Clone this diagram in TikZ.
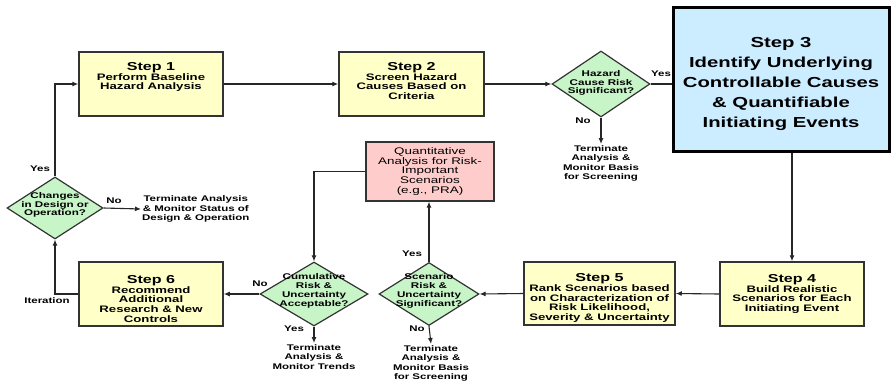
\documentclass[tikz,border=0pt]{standalone}
\usepackage{fontspec}
\newfontfamily\bfw[FakeStretch=1.4]{Liberation Sans Bold}
\newfontfamily\rgw[FakeStretch=1.4]{Liberation Sans}
\usetikzlibrary{shapes.geometric,arrows.meta,calc}
\definecolor{yfill}{HTML}{FFFFC8}
\definecolor{gfill}{HTML}{C8F5C8}
\definecolor{bfill}{HTML}{CCECFF}
\definecolor{pfill}{HTML}{FFCCCC}
\newcommand\ttl[1]{{\fontsize{11.5}{11}\selectfont #1}}
\begin{document}
\begin{tikzpicture}[x=1pt,y=-1pt,
  stepbox/.style={draw=black!80,line width=1.5pt,fill=yfill,inner sep=0pt,
    minimum width=144pt,minimum height=64pt,align=center,
    font=\bfw\fontsize{9.4}{9.8}\selectfont},
  boxtxt/.style={inner sep=0pt,align=center,font=\bfw\fontsize{9.4}{9.8}\selectfont},
  dia/.style={diamond,draw=black!80,line width=1.2pt,fill=gfill,inner sep=0pt},
  dtxt/.style={inner sep=0pt,align=center,font=\bfw\fontsize{8.3}{8.8}\selectfont},
  lbl/.style={inner sep=1pt,align=center,font=\bfw\fontsize{8.2}{9.6}\selectfont},
  conn/.style={draw=black!85,line width=1.1pt},
  arr/.style={conn,-{Latex[length=6pt,width=5pt]}}]
\fill[white] (0,0) rectangle (891,389);
\useasboundingbox (0,0) rectangle (891,389);

% boxes
\node[stepbox] (s1) at (151,84) {};
\node[boxtxt,anchor=north] (s1t) at (151,62) {\ttl{Step 1}\\Perform Baseline\\Hazard Analysis};
\node[stepbox,minimum width=145pt] (s2) at (411.5,84) {};
\node[boxtxt,anchor=north] (s2t) at (411.5,62) {\ttl{Step 2}\\Screen Hazard\\Causes Based on\\Criteria};
\node[draw=black,line width=3pt,fill=bfill,minimum width=216pt,minimum height=144pt,
  inner sep=0pt] (s3) at (781,79) {};
\node[inner sep=0pt,align=center,font=\bfw\fontsize{14.5}{20}\selectfont] (s3t) at (781,83.5)
  {Step 3\\Identify Underlying\\Controllable Causes\\\& Quantifiable\\Initiating Events};
\node[stepbox] (s4) at (792,294) {\ttl{Step 4}\\Build Realistic\\Scenarios for Each\\Initiating Event};
\node[stepbox,minimum width=151pt,minimum height=63pt] (s5) at (599.5,293.5) {};
\node[boxtxt] (s5t) at (599.5,298)
  {\ttl{Step 5}\\Rank Scenarios based\\on Characterization of\\Risk Likelihood,\\Severity \& Uncertainty};
\node[stepbox] (s6) at (151,294) {};
\node[boxtxt] (s6t) at (151,299) {\ttl{Step 6}\\Recommend\\Additional\\Research \& New\\Controls};
\node[draw=black!80,line width=1.2pt,fill=pfill,minimum width=128pt,minimum height=59pt,
  inner sep=0pt,align=center,font=\rgw\fontsize{9.6}{9.8}\selectfont] (q) at (430,171.5)
  {Quantitative\\Analysis for Risk-\\Important\\Scenarios\\(e.g., PRA)};

% diamonds
\node[dia,minimum width=98pt,minimum height=66pt] (hz) at (601,84) {};
\node[dtxt] (hzt) at (601,83) {Hazard\\Cause Risk\\Significant?};
\node[dia,minimum width=100pt,minimum height=63pt] (sc) at (429,294) {};
\node[dtxt] (sct) at (429,291) {Scenario\\Risk \&\\Uncertainty\\Significant?};
\node[dia,minimum width=108pt,minimum height=64pt] (cu) at (314,294) {};
\node[dtxt] (cut) at (314,291) {Cumulative\\Risk \&\\Uncertainty\\Acceptable?};
\node[dia,minimum width=96pt,minimum height=62pt] (ch) at (55,208) {};
\node[dtxt] (cht) at (55,205) {Changes\\in Design or\\Operation?};

% terminate texts
\node[lbl,anchor=north] (t1) at (601,144) {Terminate\\Analysis \&\\Monitor Basis\\for Screening};
\node[lbl,anchor=north] (t2) at (431,344) {Terminate\\Analysis \&\\Monitor Basis\\for Screening};
\node[lbl,anchor=north] (t3) at (314,343) {Terminate\\Analysis \&\\Monitor Trends};
\node[lbl,anchor=west] (t4) at (141,209) {Terminate Analysis\\\& Monitor Status of\\Design \& Operation};

% connectors
\draw[arr] (s1.east) -- (s2.west);
\draw[arr] (s2.east) -- (hz.west);
\draw[conn] (hz.east) -- (s3.west |- hz.east);
\draw[arr] (hz.south) -- (t1.north);
\draw[arr] (s3.south -| s4.north) -- (s4.north);
\draw[arr] (s4.west) -- (s5.east);
\draw[arr] (s5.west) -- (sc.east);
\draw[arr] (sc.north) -- (sc.north |- q.south);
\draw[arr] (sc.south) -- (t2.north);
\draw[arr] (q.west) -| (cu.north);
\draw[arr] (cu.west) -- (s6.east);
\draw[arr] (cu.south) -- (t3.north);
\draw[arr] (s6.west) -| (ch.south);
\draw[arr] (ch.north) |- (s1.west);
\draw[arr] (ch.east) -- (t4.west);

% labels
\node[lbl] (lyes1) at (661,74) {Yes};
\node[lbl] (lno1) at (583,121) {No};
\node[lbl] (lyes2) at (412,254) {Yes};
\node[lbl] (lno2) at (417,329) {No};
\node[lbl] (lno3) at (260,284) {No};
\node[lbl] (lyes3) at (294,329) {Yes};
\node[lbl] (lno4) at (114,201) {No};
\node[lbl] (lyes4) at (40,169) {Yes};
\node[lbl] (lit) at (47,301) {Iteration};
\end{tikzpicture}
\end{document}
